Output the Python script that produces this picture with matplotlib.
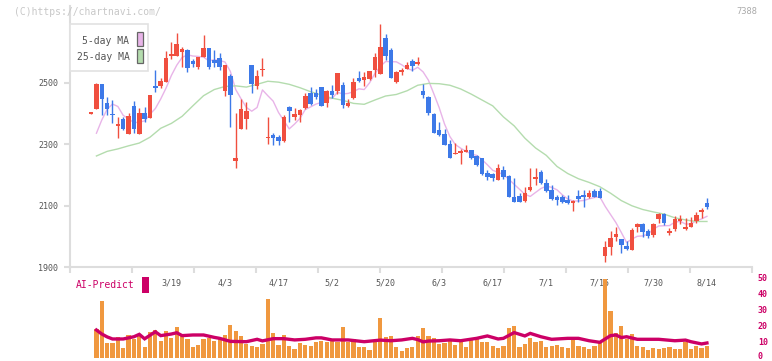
import numpy as np
import pandas as pd
import matplotlib
matplotlib.use("Agg")
import matplotlib.pyplot as plt
from matplotlib.patches import Rectangle
from matplotlib.transforms import ScaledTranslation

# daily candles, index 0 = 2/26 ... index 115 = 8/14
opens = [2400, 2416, 2496, 2433, 2398, 2361, 2381, 2334, 2425, 2334,
         2402, 2386, 2488, 2491, 2503, 2587, 2588, 2599, 2607, 2572,
         2552, 2583, 2613, 2574, 2581, 2474, 2522, 2247, 2350, 2382,
         2558, 2491, 2540, 2319, 2330, 2325, 2312, 2420, 2388, 2395,
         2419, 2466, 2466, 2485, 2435, 2473, 2473, 2492, 2425, 2451,
         2514, 2509, 2511, 2542, 2529, 2646, 2607, 2504, 2535, 2545,
         2570, 2562, 2473, 2455, 2399, 2347, 2334, 2301, 2267, 2271,
         2276, 2281, 2262, 2254, 2207, 2205, 2184, 2217, 2198, 2127,
         2132, 2116, 2152, 2186, 2210, 2175, 2152, 2129, 2129, 2119,
         2108, 2132, 2136, 2128, 2148, 2147, 1938, 1967, 1997, 1991,
         1970, 1957, 2032, 2041, 2017, 2006, 2056, 2074, 2010, 2026,
         2051, 2025, 2032, 2051, 2080, 2109]
highs = [2403, 2500, 2496, 2453, 2444, 2388, 2390, 2401, 2442, 2417,
         2420, 2460, 2542, 2515, 2604, 2632, 2661, 2617, 2610, 2578,
         2585, 2655, 2613, 2607, 2596, 2558, 2529, 2401, 2447, 2438,
         2558, 2542, 2579, 2389, 2336, 2330, 2395, 2425, 2417, 2414,
         2466, 2487, 2481, 2487, 2477, 2493, 2533, 2503, 2448, 2514,
         2538, 2534, 2538, 2596, 2691, 2658, 2612, 2538, 2547, 2566,
         2576, 2583, 2496, 2457, 2403, 2373, 2349, 2314, 2303, 2284,
         2297, 2283, 2264, 2256, 2217, 2208, 2236, 2230, 2200, 2191,
         2141, 2162, 2224, 2224, 2217, 2186, 2169, 2135, 2134, 2135,
         2119, 2152, 2150, 2152, 2154, 2157, 1986, 2017, 2031, 1993,
         1986, 2027, 2043, 2043, 2025, 2043, 2076, 2076, 2027, 2067,
         2069, 2061, 2063, 2079, 2093, 2126]
lows = [2399, 2416, 2396, 2396, 2368, 2320, 2347, 2334, 2336, 2334,
        2373, 2386, 2471, 2482, 2503, 2576, 2588, 2552, 2536, 2550,
        2545, 2583, 2544, 2552, 2542, 2458, 2357, 2224, 2350, 2350,
        2468, 2481, 2523, 2301, 2298, 2298, 2307, 2373, 2379, 2374,
        2416, 2428, 2448, 2425, 2422, 2451, 2464, 2418, 2422, 2448,
        2502, 2488, 2509, 2518, 2529, 2574, 2516, 2498, 2525, 2544,
        2539, 2558, 2451, 2395, 2336, 2327, 2297, 2257, 2267, 2237,
        2274, 2251, 2231, 2200, 2183, 2182, 2184, 2186, 2130, 2111,
        2111, 2111, 2147, 2166, 2172, 2145, 2119, 2102, 2109, 2106,
        2084, 2112, 2097, 2126, 2127, 2124, 1917, 1941, 1984, 1945,
        1957, 1955, 2015, 2000, 1994, 1998, 2043, 2039, 2006, 2019,
        2042, 2022, 2032, 2043, 2061, 2089]
closes = [2402, 2496, 2448, 2414, 2394, 2363, 2351, 2392, 2351, 2403,
          2383, 2460, 2484, 2506, 2581, 2589, 2626, 2610, 2549, 2561,
          2583, 2613, 2552, 2565, 2550, 2558, 2461, 2257, 2415, 2408,
          2497, 2522, 2542, 2321, 2320, 2312, 2389, 2409, 2399, 2412,
          2457, 2431, 2455, 2425, 2473, 2461, 2531, 2429, 2433, 2502,
          2507, 2519, 2538, 2585, 2617, 2587, 2516, 2536, 2537, 2558,
          2556, 2565, 2461, 2401, 2338, 2331, 2299, 2257, 2272, 2278,
          2281, 2254, 2234, 2203, 2195, 2191, 2222, 2195, 2130, 2111,
          2111, 2140, 2160, 2195, 2175, 2149, 2121, 2120, 2113, 2108,
          2116, 2121, 2128, 2140, 2130, 2126, 1966, 1996, 2009, 1971,
          1961, 2022, 2041, 2015, 2001, 2041, 2074, 2045, 2017, 2057,
          2054, 2031, 2044, 2070, 2087, 2097]

# 5-day MA for the first days (needs earlier closes)
ma5_head = [2336, 2379, 2414]

# 25-day MA
ma25_idx = [1, 3, 5, 7, 9, 11, 13, 15, 17, 19, 21, 23, 25, 27, 29, 31, 33,
            35, 37, 39, 41, 43, 45, 47, 49, 51, 53, 55, 57, 59, 61, 63, 65,
            67, 69, 71, 73, 75, 77, 79, 81, 83, 85, 87, 89, 91, 93, 95, 97,
            99, 101, 103, 105, 107, 109, 111, 113, 115]
ma25_val = [2262, 2277, 2285, 2295, 2304, 2323, 2352, 2368, 2391, 2425,
            2458, 2478, 2488, 2490, 2486, 2495, 2505, 2502, 2495, 2484,
            2471, 2460, 2450, 2443, 2433, 2430, 2444, 2457, 2462, 2474,
            2492, 2498, 2497, 2492, 2480, 2463, 2444, 2425, 2389, 2360,
            2320, 2288, 2264, 2228, 2205, 2188, 2176, 2162, 2141, 2117,
            2100, 2088, 2080, 2073, 2061, 2054, 2049, 2049]

# volume bars, index 1 .. 115
volume = [18.0, 35.5, 9.4, 9.4, 13.0, 6.1, 14.2, 11.7, 13.5, 6.9,
          16.0, 17.1, 10.7, 16.7, 12.6, 19.4, 14.0, 12.0, 7.0, 8.0,
          11.7, 12.2, 10.5, 12.5, 14.4, 20.6, 16.7, 13.8, 8.4, 7.6,
          7.0, 8.4, 36.9, 15.7, 8.2, 14.4, 7.6, 5.7, 9.0, 8.0,
          7.3, 10.1, 10.7, 10.1, 10.7, 10.1, 19.4, 9.9, 11.5, 7.0,
          7.0, 4.8, 10.7, 25.1, 13.0, 13.5, 7.0, 4.3, 6.1, 7.0,
          13.6, 18.7, 13.6, 12.2, 8.6, 9.4, 10.7, 8.2, 10.3, 6.5,
          11.1, 12.2, 9.8, 9.8, 7.3, 6.0, 7.3, 18.5, 19.9, 6.7,
          8.6, 12.2, 10.0, 10.6, 6.7, 7.3, 8.0, 6.8, 6.1, 11.9,
          7.3, 6.7, 5.4, 7.3, 9.7, 49.0, 29.1, 15.7, 19.9, 11.6,
          15.0, 7.5, 6.5, 4.8, 6.1, 5.4, 6.1, 6.6, 5.4, 5.4,
          10.0, 5.4, 7.6, 6.1, 7.3]

# AI-Predict line
ai_idx = [1, 2, 3, 4, 6, 8, 9, 10, 12, 13, 15, 16, 17, 19, 21, 23, 24, 26,
          29, 31, 32, 34, 36, 38, 40, 42, 43, 45, 48, 51, 54, 56, 58, 60, 61,
          62, 63, 65, 67, 69, 70, 72, 74, 76, 77, 79, 81, 82, 84, 86, 89, 91,
          93, 95, 97, 98, 99, 100, 102, 106, 109, 111, 112, 114, 115]
ai_val = [17.3, 14.8, 13.0, 11.7, 11.7, 13.1, 14.6, 11.8, 16.2, 13.8, 14.8,
          15.6, 13.8, 14.2, 14.2, 12.7, 12.1, 10.2, 10.0, 11.5, 10.5, 11.9,
          11.9, 11.1, 11.5, 12.4, 12.4, 11.1, 11.1, 10.0, 11.0, 10.6, 11.1,
          12.1, 11.3, 9.9, 10.4, 10.6, 11.1, 10.6, 11.1, 12.1, 13.6, 11.7,
          12.1, 15.7, 13.6, 15.2, 13.1, 11.5, 12.1, 12.1, 10.6, 9.6, 13.8,
          14.2, 12.6, 13.1, 11.5, 11.5, 10.6, 11.0, 10.0, 8.6, 9.2]

date_idx = [15, 25, 35, 45, 55, 65, 75, 85, 95, 105, 115]
date_labels = ["3/19", "4/3", "4/17", "5/2", "5/20", "6/3", "6/17", "7/1",
               "7/15", "7/30", "8/14"]
price_ticks = [1900, 2100, 2300, 2500]
vol_ticks = [0, 10, 20, 30, 40, 50]

RED = "#f04f3f"
BLUE = "#3d79e8"
PINK = "#e8b4e8"
GREEN = "#b4dcae"
MAGENTA = "#cc0066"
ORANGE = "#f0983f"
AXIS = "#dddddd"
MONO = "DejaVu Sans Mono"

W, H = 772, 361
fig = plt.figure(figsize=(W / 100, H / 100), dpi=100)
fig.patch.set_facecolor("white")

xlim = (-3.88, 123.47)

# ---- price panel
ax = fig.add_axes([70.3 / W, 1 - 267.3 / H, 682 / W, 261.4 / H])
x = np.arange(len(closes))
o = np.array(opens)
c = np.array(closes)
cols = [RED if cc >= oo else BLUE for oo, cc in zip(o, c)]
body_lo = np.minimum(o, c)
body_h = np.maximum(np.abs(c - o), 5)
ax.vlines(x, lows, highs, colors=cols, lw=1.0, zorder=2)
ax.bar(x, body_h, bottom=body_lo, width=0.85, color=cols, lw=0, zorder=3)

ma5 = pd.Series(closes).rolling(5).mean()
ma5[1:4] = ma5_head
ax.plot(x[1:], ma5[1:], color=PINK, lw=1.0, zorder=1)
ax.plot(ma25_idx, ma25_val, color=GREEN, lw=1.0, zorder=1)

ax.set_xlim(*xlim)
ax.set_ylim(1900, 2750)
ax.set_yticks(price_ticks)
ax.set_yticklabels([str(p) for p in price_ticks], fontfamily=MONO,
                   fontsize=6, color="#555555")
ax.set_xticks(np.linspace(xlim[0], xlim[1], 12))
ax.set_xticklabels([])
ax.tick_params(axis="y", length=4.5, width=1.5, color=AXIS, pad=4)
ax.tick_params(axis="x", length=4, width=1.5, color=AXIS, direction="out")
for s in ["top", "right"]:
    ax.spines[s].set_visible(False)
for s in ["left", "bottom"]:
    ax.spines[s].set_color(AXIS)
    ax.spines[s].set_linewidth(1.5)

for i, lab in zip(date_idx, date_labels):
    ax.text(i, -0.06, lab, transform=ax.get_xaxis_transform(), ha="center",
            va="center", fontsize=6, fontfamily=MONO, color="#555555")

# ---- volume panel
vax = fig.add_axes([70.3 / W, 1 - 357.7 / H, 682 / W, 80 / H])
vx = np.arange(1, len(volume) + 1)
vax.bar(vx, volume, width=0.78, color=ORANGE, lw=0)
vax.plot(ai_idx, ai_val, color=MAGENTA, lw=2.4, solid_joinstyle="miter")
vax.set_xlim(*xlim)
vax.set_ylim(0, 50)
vax.set_xticks([])
vax.yaxis.tick_right()
vax.set_yticks(vol_ticks)
vax.set_yticklabels([str(v) for v in vol_ticks], fontfamily=MONO,
                    fontsize=6, color=MAGENTA, fontweight="bold")
vax.tick_params(axis="y", length=0, pad=4)
# keep the "0" label inside the canvas
zero_lbl = vax.get_yticklabels()[0]
zero_lbl.set_transform(zero_lbl.get_transform()
                       + ScaledTranslation(0, 2 / 100, fig.dpi_scale_trans))
for s in vax.spines.values():
    s.set_visible(False)
vax.patch.set_alpha(0)

# ---- overlay in pixel coordinates for legend / captions
ov = fig.add_axes([0, 0, 1, 1])
ov.set_xlim(0, W)
ov.set_ylim(H, 0)
ov.axis("off")
ov.patch.set_alpha(0)

ov.text(14, 12, "(C)https://chartnavi.com/", fontsize=7, fontfamily=MONO,
        color="#c8c8c8", ha="left", va="center")
ov.text(757, 12, "7388", fontsize=6.3, fontfamily=MONO, color="#aaaaaa",
        ha="right", va="center")

ov.add_patch(Rectangle((70, 24), 78, 47, facecolor="white",
                       edgecolor="#e2e2e2", lw=1.2, zorder=5))
ov.text(129.5, 40.5, "5-day MA", fontsize=7, fontfamily=MONO,
        color="#555555", ha="right", va="center", zorder=6)
ov.text(129.5, 57, "25-day MA", fontsize=7, fontfamily=MONO,
        color="#555555", ha="right", va="center", zorder=6)
ov.add_patch(Rectangle((136.5, 31.5), 6, 14.5, facecolor=PINK,
                       edgecolor="#666666", lw=0.9, zorder=6))
ov.add_patch(Rectangle((136.5, 48.5), 6, 14.5, facecolor=GREEN,
                       edgecolor="#666666", lw=0.9, zorder=6))

ov.text(76, 285.5, "AI-Predict", fontsize=7, fontfamily=MONO,
        color=MAGENTA, ha="left", va="center")
ov.add_patch(Rectangle((142, 277), 6.7, 16, facecolor=MAGENTA, lw=0))

fig.savefig("out.png", dpi=100, facecolor="white")
